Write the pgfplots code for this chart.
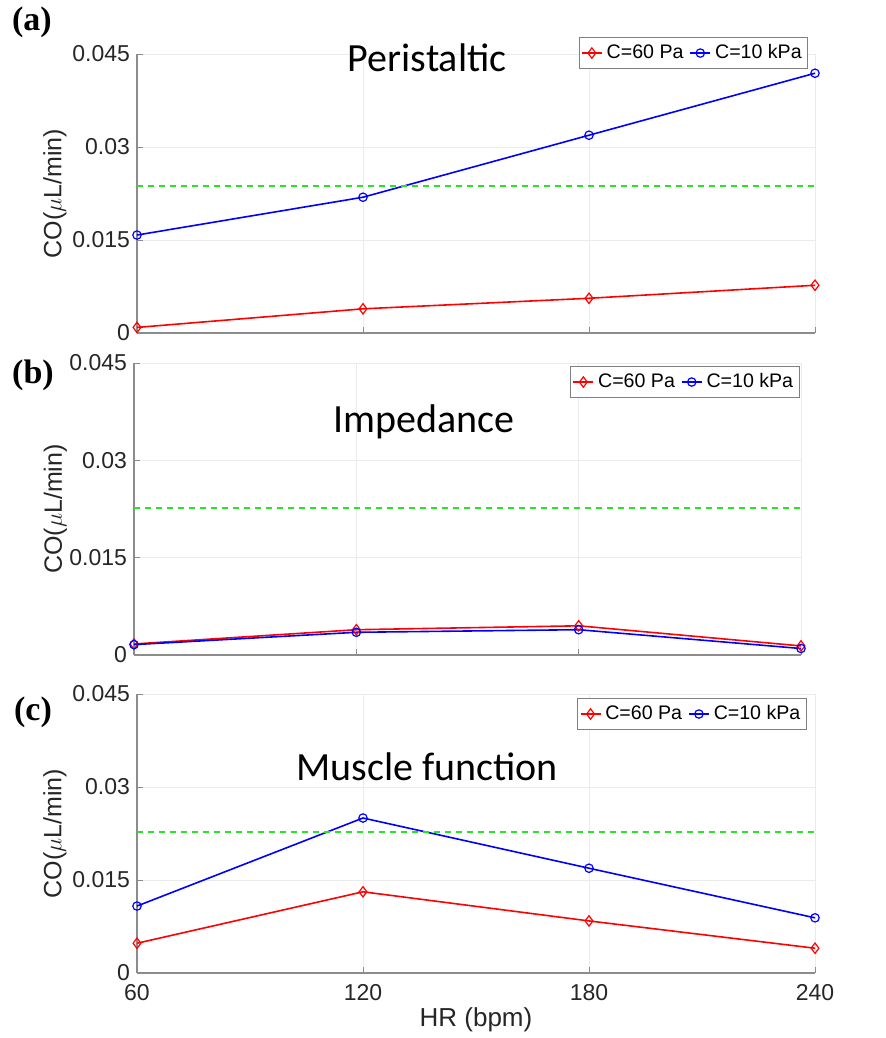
\documentclass[border=0pt]{standalone}
\usepackage{pgfplots}
\pgfplotsset{compat=1.18}
\usepackage{fontspec}
\setmainfont{Liberation Sans}
\newfontfamily\titlefont{Carlito}
\newfontfamily\labfont{Liberation Serif}

\definecolor{mgreen}{rgb}{0.15,0.9,0.15}

\pgfplotsset{
  panel/.style={
    scale only axis,
    clip=false,
    xmin=60, xmax=240, ymin=0, ymax=0.045,
    axis x line*=bottom, axis y line*=left,
    axis line style={black!45, line width=0.6pt},
    xtick={60,120,180,240},
    ytick={0,0.015,0.03,0.045},
    yticklabels={0,0.015,0.03,0.045},
    scaled y ticks=false,
    grid=major,
    major grid style={black!8, line width=0.5pt},
    tick align=inside,
    major tick length=3pt,
    tick style={black!45},
    tick label style={font=\fontsize{11.5}{13}\selectfont, text=black!85},
    xticklabel style={yshift=-2pt},
    /pgf/number format/assume math mode=true,
    ylabel={CO($\mu$L/min)},
    legend columns=2,
    legend cell align=left,
    legend style={font=\fontsize{9.8}{11}\selectfont, draw=black!50, line width=0.5pt,
      inner xsep=1pt, inner ysep=1.5pt,
      /tikz/every even column/.append style={column sep=1pt}},
    legend image code/.code={\draw[mark repeat=2,mark phase=2] plot coordinates {(0pt,0pt) (5pt,0pt) (10pt,0pt)};},
  },
  ylab/.style={every axis y label/.style={at={(axis description cs:#1,0.5)}, rotate=90, anchor=center,
      font=\fontsize{12.5}{14}\selectfont, text=black!85}},
  redl/.style={red, line width=0.8pt, mark=diamond, mark size=2.6pt, mark options={solid, line width=0.6pt}},
  bluel/.style={blue, line width=0.8pt, mark=o, mark size=2.1pt, mark options={solid, line width=0.6pt}},
  greenl/.style={mgreen, line width=1pt, dash pattern=on 3pt off 2.5pt, forget plot},
}

\begin{document}
\begin{tikzpicture}

% Panel (a)
\begin{axis}[panel,
  at={(68.5pt,-166.5pt)}, anchor=south west,
  width=339pt, height=139.5pt,
  xticklabels={},
  ylab=-0.121,
  legend style={at={(0.99,1.061)}, anchor=north east},
]
\addplot[redl] coordinates {(60,0.0009) (120,0.0039) (180,0.0056) (240,0.0077)};
\addlegendentry{C=60 Pa}
\addplot[bluel] coordinates {(60,0.0158) (120,0.0219) (180,0.0319) (240,0.0419)};
\addlegendentry{C=10 kPa}
\addplot[greenl] coordinates {(60,0.0237) (240,0.0237)};
\node[font=\titlefont\fontsize{20}{22}\selectfont] at (rel axis cs:0.428,0.986) {Peristaltic};
\end{axis}

% Panel (b)
\begin{axis}[panel,
  at={(67pt,-327.5pt)}, anchor=south west,
  width=333.5pt, height=146pt,
  xticklabels={},
  ylab=-0.118,
  legend style={at={(0.998,0.99)}, anchor=north east},
]
\addplot[redl] coordinates {(60,0.0017) (120,0.0039) (180,0.0045) (240,0.0014)};
\addlegendentry{C=60 Pa}
\addplot[bluel] coordinates {(60,0.0016) (120,0.0035) (180,0.0039) (240,0.0010)};
\addlegendentry{C=10 kPa}
\addplot[greenl] coordinates {(60,0.0226) (240,0.0226)};
\node[font=\titlefont\fontsize{20}{22}\selectfont] at (rel axis cs:0.435,0.798) {Impedance};
\end{axis}

% Panel (c)
\begin{axis}[panel,
  at={(68.5pt,-486.5pt)}, anchor=south west,
  width=339pt, height=139.5pt,
  xticklabels={60,120,180,240},
  xlabel={HR (bpm)},
  every axis x label/.style={at={(axis description cs:0.5,-0.168)}, anchor=center,
    font=\fontsize{13}{15}\selectfont, text=black!85},
  ylab=-0.121,
  legend style={at={(0.988,0.986)}, anchor=north east},
]
\addplot[redl] coordinates {(60,0.0048) (120,0.0131) (180,0.0084) (240,0.0040)};
\addlegendentry{C=60 Pa}
\addplot[bluel] coordinates {(60,0.0108) (120,0.0250) (180,0.0169) (240,0.0089)};
\addlegendentry{C=10 kPa}
\addplot[greenl] coordinates {(60,0.0227) (240,0.0227)};
\node[font=\titlefont\fontsize{20}{22}\selectfont] at (rel axis cs:0.428,0.738) {Muscle function};
\end{axis}

\node[font=\labfont\bfseries\fontsize{17}{18}\selectfont] at (16pt,-11pt) {(a)};
\node[font=\labfont\bfseries\fontsize{17}{18}\selectfont] at (16.5pt,-187.5pt) {(b)};
\node[font=\labfont\bfseries\fontsize{17}{18}\selectfont] at (16.5pt,-356pt) {(c)};

\pgfresetboundingbox
\path (0pt,0pt) rectangle (443pt,-519pt);
\end{tikzpicture}
\end{document}
